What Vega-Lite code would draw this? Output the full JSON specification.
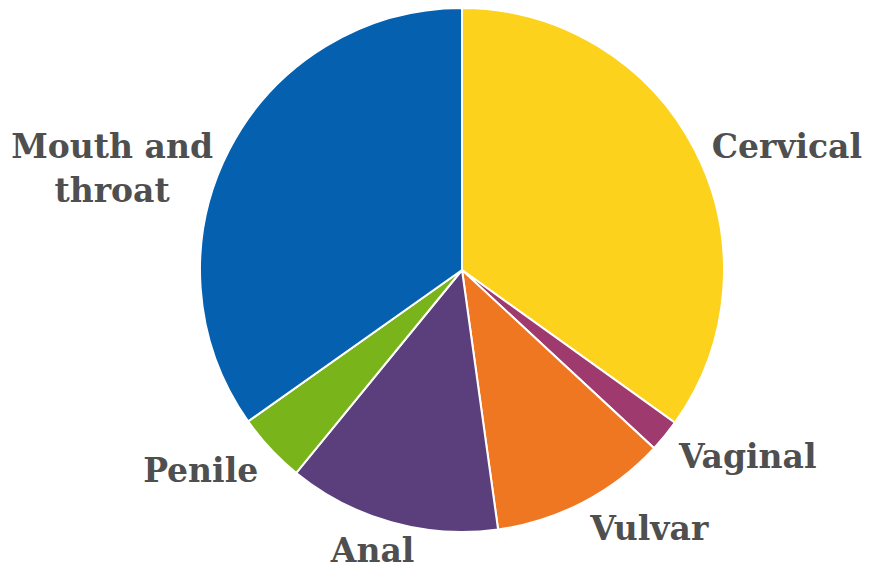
{
  "$schema": "https://vega.github.io/schema/vega-lite/v6.json",
  "width": 832,
  "height": 540,
  "autosize": {"type": "none"},
  "padding": {"left": 46, "right": 0, "top": 0, "bottom": 30},
  "background": "white",
  "view": {"stroke": null},
  "data": {
    "values": [
      {"site": "Cervical", "label": "Cervical", "share": 34.9, "rank": 1},
      {"site": "Vaginal", "label": "Vaginal", "share": 2.0, "rank": 2},
      {"site": "Vulvar", "label": "Vulvar", "share": 10.9, "rank": 3},
      {"site": "Anal", "label": "Anal", "share": 13.1, "rank": 4},
      {"site": "Penile", "label": "Penile", "share": 4.3, "rank": 5},
      {"site": "Mouth and throat", "label": "Mouth and\nthroat", "share": 34.8, "rank": 6}
    ]
  },
  "encoding": {
    "theta": {"field": "share", "type": "quantitative", "stack": true},
    "order": {"field": "rank", "type": "quantitative"}
  },
  "layer": [
    {
      "mark": {"type": "arc", "outerRadius": 262, "stroke": "white", "strokeWidth": 2},
      "encoding": {
        "color": {
          "field": "site",
          "type": "nominal",
          "legend": null,
          "scale": {
            "domain": ["Cervical", "Vaginal", "Vulvar", "Anal", "Penile", "Mouth and throat"],
            "range": ["#FCD21C", "#9E3A6E", "#F07722", "#5B3F7C", "#78B41A", "#0561B0"]
          }
        }
      }
    },
    {
      "mark": {"type": "text", "radius": 284, "align": "left", "baseline": "middle", "dy": 8, "dx": -3, "font": "DejaVu Serif", "fontSize": 33, "fontWeight": "bold", "color": "#4f4f4f"},
      "encoding": {
        "text": {
          "condition": {"test": "datum.site == 'Cervical' || datum.site == 'Vaginal' || datum.site == 'Vulvar'", "field": "label"},
          "value": ""
        }
      }
    },
    {
      "mark": {"type": "text", "radius": 287, "align": "right", "baseline": "middle", "dy": 6, "dx": 6, "font": "DejaVu Serif", "fontSize": 33, "fontWeight": "bold", "color": "#4f4f4f"},
      "encoding": {
        "text": {
          "condition": {"test": "datum.site == 'Penile'", "field": "label"},
          "value": ""
        }
      }
    },
    {
      "mark": {"type": "text", "radius": 287, "align": "center", "baseline": "middle", "dy": 10, "dx": -95, "font": "DejaVu Serif", "fontSize": 33, "fontWeight": "bold", "color": "#4f4f4f", "lineBreak": "\n", "lineHeight": 44},
      "encoding": {
        "text": {
          "condition": {"test": "datum.site == 'Mouth and throat'", "field": "label"},
          "value": ""
        }
      }
    },
    {
      "mark": {"type": "text", "radius": 287, "align": "center", "baseline": "middle", "dy": 6, "dx": -12, "font": "DejaVu Serif", "fontSize": 33, "fontWeight": "bold", "color": "#4f4f4f"},
      "encoding": {
        "text": {
          "condition": {"test": "datum.site == 'Anal'", "field": "label"},
          "value": ""
        }
      }
    }
  ]
}
